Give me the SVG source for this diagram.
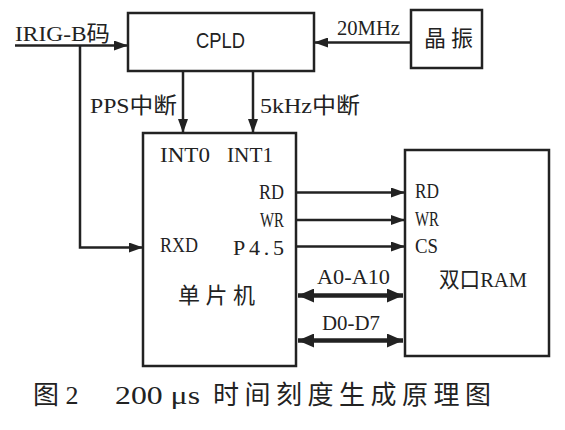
<svg xmlns="http://www.w3.org/2000/svg" width="565" height="430" viewBox="0 0 565 430">
<defs>
<marker id="ah" viewBox="0 0 14 10" refX="14" refY="5" markerWidth="14" markerHeight="10" markerUnits="userSpaceOnUse" orient="auto"><path d="M0,0 L14,5 L0,10 z" fill="#222"/></marker>
<marker id="bh" viewBox="0 0 16 14" refX="16" refY="7" markerWidth="16" markerHeight="14" markerUnits="userSpaceOnUse" orient="auto-start-reverse"><path d="M0,0 L16,7 L0,14 z" fill="#222"/></marker>
</defs>
<style>
.box{fill:#fff;stroke:#222;stroke-width:2.5}
.ln{fill:none;stroke:#222;stroke-width:2.5}
.bus{fill:none;stroke:#222;stroke-width:4.5}
text{font-family:"Liberation Serif","Noto Sans CJK SC",serif;font-size:22px;fill:#222}
.sans{font-family:"Liberation Sans","Noto Sans CJK SC",sans-serif}
.cap{font-size:26px}
</style>
<rect width="565" height="430" fill="#fff"/>
<g id="connectors">
<path class="ln" d="M15,45.5 H128" marker-end="url(#ah)"/>
<path class="ln" d="M80,45.5 V247.5 H143" marker-end="url(#ah)"/>
<path class="ln" d="M411,42.5 H314" marker-end="url(#ah)"/>
<path class="ln" d="M183,71 V133" marker-end="url(#ah)"/>
<path class="ln" d="M253,71 V133" marker-end="url(#ah)"/>
<path class="ln" d="M296,192.5 H405" marker-end="url(#ah)"/>
<path class="ln" d="M296,220 H405" marker-end="url(#ah)"/>
<path class="ln" d="M296,246.5 H405" marker-end="url(#ah)"/>
<path class="bus" d="M298,295.5 H403" marker-start="url(#bh)" marker-end="url(#bh)"/>
<path class="bus" d="M298,340.5 H403" marker-start="url(#bh)" marker-end="url(#bh)"/>
</g>
<g id="cpld">
<rect class="box" x="128" y="13" width="186" height="58"/>
<text class="sans" x="196" y="48" textLength="49" lengthAdjust="spacingAndGlyphs" font-size="21">CPLD</text>
</g>
<g id="osc">
<rect class="box" x="411" y="10" width="71" height="58"/>
<text x="424" y="46" font-size="22" textLength="49" lengthAdjust="spacing">晶振</text>
</g>
<g id="mcu">
<rect class="box" x="143" y="133" width="153" height="233"/>
<text x="160" y="162" textLength="50" lengthAdjust="spacingAndGlyphs">INT0</text>
<text x="227" y="162" textLength="46" lengthAdjust="spacingAndGlyphs">INT1</text>
<text x="259" y="199" textLength="25" lengthAdjust="spacingAndGlyphs">RD</text>
<text x="260" y="227" textLength="24" lengthAdjust="spacingAndGlyphs">WR</text>
<text x="233" y="255" textLength="51" lengthAdjust="spacing">P4.5</text>
<text x="160" y="252" textLength="38" lengthAdjust="spacingAndGlyphs">RXD</text>
<text x="178" y="303" textLength="77" lengthAdjust="spacing">单片机</text>
</g>
<g id="ram">
<rect class="box" x="405" y="150" width="144" height="206"/>
<text x="415" y="198" textLength="24" lengthAdjust="spacingAndGlyphs">RD</text>
<text x="415" y="226" textLength="24" lengthAdjust="spacingAndGlyphs">WR</text>
<text x="415" y="253" textLength="23" lengthAdjust="spacingAndGlyphs">CS</text>
<text x="439" y="287" textLength="88" lengthAdjust="spacingAndGlyphs">双口RAM</text>
</g>
<g id="labels">
<text x="15" y="41" textLength="95" lengthAdjust="spacingAndGlyphs">IRIG-B码</text>
<text x="337" y="35" textLength="63" lengthAdjust="spacingAndGlyphs">20MHz</text>
<text x="90" y="113" textLength="87" lengthAdjust="spacingAndGlyphs">PPS中断</text>
<text x="260" y="113" textLength="100" lengthAdjust="spacingAndGlyphs">5kHz中断</text>
<text x="317" y="284" textLength="73" lengthAdjust="spacingAndGlyphs">A0-A10</text>
<text x="322" y="330" textLength="58" lengthAdjust="spacingAndGlyphs">D0-D7</text>
</g>
<g id="caption">
<text class="cap" x="33" y="404">图 2</text>
<text class="cap" x="115" y="404" textLength="85" lengthAdjust="spacingAndGlyphs">200 μs</text>
<text class="cap" x="213" y="404" textLength="278" lengthAdjust="spacing">时间刻度生成原理图</text>
</g>
</svg>
